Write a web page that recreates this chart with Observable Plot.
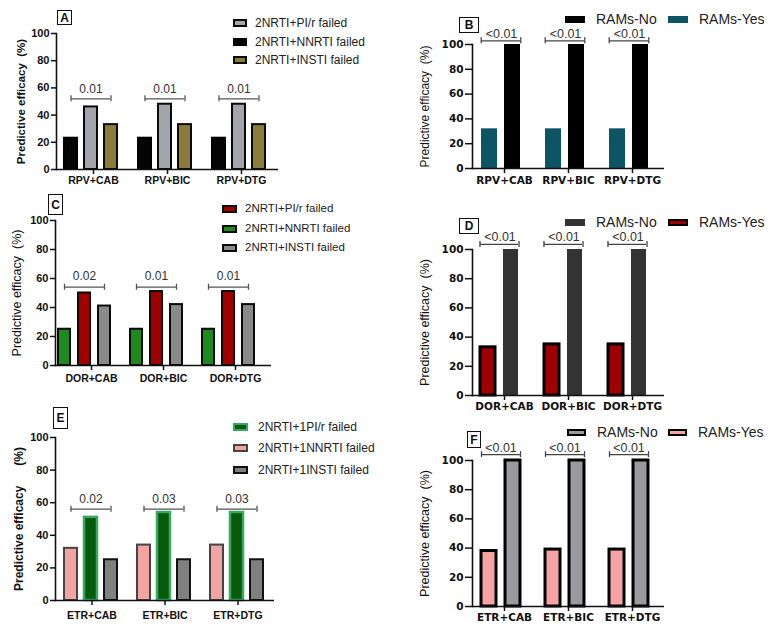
<!DOCTYPE html>
<html><head><meta charset="utf-8">
<script src="https://cdn.jsdelivr.net/npm/d3@7"></script>
<script src="https://cdn.jsdelivr.net/npm/@observablehq/plot@0.6"></script>
<style>
body{margin:0;background:#fff;}
#wrap{position:relative;width:769px;height:630px;overflow:hidden;background:#fff;font-family:"Liberation Sans",Arial,sans-serif;}
.panel{position:absolute;}
.tag{position:absolute;border:1.4px solid #111;font-weight:bold;display:flex;align-items:center;justify-content:center;box-sizing:border-box;font-size:12px;color:#111;background:#fff;}
.leg{position:absolute;display:flex;align-items:center;white-space:nowrap;color:#222;line-height:1;}
.sw{display:inline-block;box-sizing:border-box;}
</style></head>
<body><div id="wrap"></div>
<script>
// ---------- DATA ----------
const groupsA = ["RPV+CAB", "RPV+BIC", "RPV+DTG"];
const groupsC = ["DOR+CAB", "DOR+BIC", "DOR+DTG"];
const groupsE = ["ETR+CAB", "ETR+BIC", "ETR+DTG"];
const yTicks = [0, 20, 40, 60, 80, 100];

// Panel A
const seriesA = ["2NRTI+NNRTI failed", "2NRTI+PI/r failed", "2NRTI+INSTI failed"];
const legendA = ["2NRTI+PI/r failed", "2NRTI+NNRTI failed", "2NRTI+INSTI failed"];
const nnrtiA = [23, 23, 23];
const pirA = [46, 48, 48];
const instiA = [33, 33, 33];
const pA = ["0.01", "0.01", "0.01"];
const bracketA = [52, 52, 52];

// Panel B
const seriesB = ["RAMs-Yes", "RAMs-No"];
const legendB = ["RAMs-No", "RAMs-Yes"];
const yesB = [32, 32, 32];
const noB = [100, 100, 100];
const pB = ["<0.01", "<0.01", "<0.01"];
const bracketB = [103, 103, 103];

// Panel C
const seriesC = ["2NRTI+NNRTI failed", "2NRTI+PI/r failed", "2NRTI+INSTI failed"];
const legendC = ["2NRTI+PI/r failed", "2NRTI+NNRTI failed", "2NRTI+INSTI failed"];
const nnrtiC = [25, 25, 25];
const pirC = [50, 51, 51];
const instiC = [41, 42, 42];
const pC = ["0.02", "0.01", "0.01"];
const bracketC = [54, 54, 54];

// Panel D
const seriesD = ["RAMs-Yes", "RAMs-No"];
const legendD = ["RAMs-No", "RAMs-Yes"];
const yesD = [33, 35, 35];
const noD = [100, 100, 100];
const pD = ["<0.01", "<0.01", "<0.01"];
const bracketD = [103.5, 103.5, 103.5];

// Panel E
const seriesE = ["2NRTI+1NNRTI failed", "2NRTI+1PI/r failed", "2NRTI+1INSTI failed"];
const legendE = ["2NRTI+1PI/r failed", "2NRTI+1NNRTI failed", "2NRTI+1INSTI failed"];
const nnrtiE = [32, 34, 34];
const pirE = [51, 54, 54];
const instiE = [25, 25, 25];
const pE = ["0.02", "0.03", "0.03"];
const bracketE = [56, 56, 56];

// Panel F
const seriesF = ["RAMs-Yes", "RAMs-No"];
const legendF = ["RAMs-No", "RAMs-Yes"];
const yesF = [38, 39, 39];
const noF = [100, 100, 100];
const pF = ["<0.01", "<0.01", "<0.01"];
const bracketF = [104, 104, 104];

// ---------- STYLES / LAYOUT ----------
const panels = [
  {tag: "A", groups: groupsA, series: seriesA, values: [nnrtiA, pirA, instiA], p: pA, by: bracketA, legend: legendA,
   sty: {"2NRTI+NNRTI failed": ["#050505", "#000", 2], "2NRTI+PI/r failed": ["#a4a4ac", "#0a0a0a", 2], "2NRTI+INSTI failed": ["#8c7c3c", "#0a0a0a", 2]},
   lay: {left: 0, top: 0, ml: 55, mt: 33, fh: 136, mb: 30, mr: 10, facet: 74.5, pi: 0.33, po: 0.44, align: 0.38, edge: false,
         tickSize: 5, tickPad: 2, tickFont: "Liberation Sans", tickFs: 11, fxPad: 2, fxFs: 10.5,
         label: "Predictive efficacy  (%)", labelFs: 11.5, labelW: "bold", labelOff: 40, pdy: -10, pFs: 12, bStroke: "#555"},
   tagBox: [57, 10, 15, 15], legPos: {x: 233, ys: [23, 42, 60], w: 14, h: 8, gap: 8, fs: 12, col: true}},
  {tag: "B", groups: groupsA, series: seriesB, values: [yesB, noB], p: pB, by: bracketB, legend: legendB,
   sty: {"RAMs-Yes": ["#0d5565", "none", 0], "RAMs-No": ["#000000", "none", 0]},
   lay: {left: 400, top: 0, ml: 72, mt: 44, fh: 124, mb: 30, mr: 10, facet: 64, pi: 0.31, po: 0.49, align: 0.34, edge: true,
         tickSize: 7, tickPad: 2, tickFont: "DejaVu Sans", tickFs: 10.5, fxPad: 3, fxFs: 10.5,
         label: "Predictive efficacy  (%)", labelFs: 12, labelW: "normal", labelOff: 52, pdy: -7, pFs: 12.5, bStroke: "#444"},
   tagBox: [459, 17, 20, 16], legPos: {y: 19, xs: [565, 668], w: 20, h: 7, gap: 11, fs: 14, col: false}},
  {tag: "C", groups: groupsC, series: seriesC, values: [nnrtiC, pirC, instiC], p: pC, by: bracketC, legend: legendC,
   sty: {"2NRTI+NNRTI failed": ["#1c8a1c", "#0a0a0a", 2], "2NRTI+PI/r failed": ["#a00000", "#0a0a0a", 2], "2NRTI+INSTI failed": ["#8a8a8a", "#0a0a0a", 2]},
   lay: {left: 0, top: 190, ml: 55, mt: 30, fh: 145, mb: 30, mr: 10, facet: 72, pi: 0.4, po: 0.5, align: 0.15, edge: false,
         tickSize: 5, tickPad: 2, tickFont: "Liberation Sans", tickFs: 11, fxPad: 4, fxFs: 10.5,
         label: "Predictive efficacy  (%)", labelFs: 12.5, labelW: "normal", labelOff: 43, pdy: -11, pFs: 12, bStroke: "#555"},
   tagBox: [48, 194, 15, 21], legPos: {x: 222, ys: [209, 229, 248], w: 15, h: 8, gap: 8, fs: 11.5, col: true}},
  {tag: "D", groups: groupsC, series: seriesD, values: [yesD, noD], p: pD, by: bracketD, legend: legendD,
   sty: {"RAMs-Yes": ["#9e0000", "#000", 3], "RAMs-No": ["#333333", "none", 0]},
   lay: {left: 400, top: 200, ml: 72, mt: 49, fh: 146, mb: 30, mr: 10, facet: 64, pi: 0.33, po: 0.5, align: 0.33, edge: true,
         tickSize: 7, tickPad: 2, tickFont: "DejaVu Sans", tickFs: 10.5, fxPad: 2, fxFs: 10.5,
         label: "Predictive efficacy  (%)", labelFs: 12.5, labelW: "normal", labelOff: 52, pdy: -7, pFs: 12.5, bStroke: "#444"},
   tagBox: [459, 218, 20, 16], legPos: {y: 222, xs: [565, 668], w: 20, h: 7, gap: 11, fs: 14, col: false}},
  {tag: "E", groups: groupsE, series: seriesE, values: [nnrtiE, pirE, instiE], p: pE, by: bracketE, legend: legendE,
   sty: {"2NRTI+1NNRTI failed": ["#f4a3a3", "#444", 2], "2NRTI+1PI/r failed": ["#075a0a", "#3aa862", 2.5], "2NRTI+1INSTI failed": ["#808080", "#111", 2]},
   lay: {left: 0, top: 400, ml: 54, mt: 37, fh: 163, mb: 30, mr: 10, facet: 73.5, pi: 0.34, po: 0.46, align: 0.47, edge: false,
         tickSize: 5, tickPad: 2, tickFont: "Liberation Sans", tickFs: 11, fxPad: 6, fxFs: 10.5,
         label: "Predictive efficacy      (%)", labelFs: 12, labelW: "bold", labelOff: 41, pdy: -10, pFs: 12, bStroke: "#555"},
   tagBox: [53, 407, 15, 22], legPos: {x: 233, ys: [427, 448, 470], w: 15, h: 8, gap: 10, fs: 12, col: true}},
  {tag: "F", groups: groupsE, series: seriesF, values: [yesF, noF], p: pF, by: bracketF, legend: legendF,
   sty: {"RAMs-Yes": ["#f8a3a3", "#000", 3], "RAMs-No": ["#9a9a9e", "#000", 3]},
   lay: {left: 400, top: 420, ml: 72, mt: 40, fh: 146, mb: 30, mr: 10, facet: 64, pi: 0.375, po: 0.52, align: 0.36, edge: true,
         tickSize: 7, tickPad: 2, tickFont: "DejaVu Sans", tickFs: 10.5, fxPad: 2, fxFs: 10.5,
         label: "Predictive efficacy  (%)", labelFs: 12.5, labelW: "normal", labelOff: 52, pdy: -7, pFs: 12.5, bStroke: "#444"},
   tagBox: [467, 431, 14, 17], legPos: {y: 432, xs: [567, 668], w: 19, h: 7, gap: 11, fs: 14, col: false}}
];

const wrap = document.getElementById("wrap");

function makePanel(c) {
  const L = c.lay;
  const rows = [];
  c.groups.forEach((g, i) => c.series.forEach((s, j) => rows.push({group: g, series: s, value: c.values[j][i]})));
  const n = c.series.length;
  const first = c.series[0], last = c.series[n - 1];
  const br = c.groups.map((g, i) => ({group: g, p: c.p[i], y: c.by[i], a: first, b: last, m: c.series[Math.floor(n / 2)]}));
  const step = L.facet / (n - L.pi + 2 * L.po);
  const bw = step * (1 - L.pi);
  const inset = L.edge ? 0 : bw / 2;
  const tickDx = bw / 2 - inset;
  const width = L.ml + 3 * L.facet + L.mr;
  const height = L.mt + L.fh + L.mb;
  const marks = [];
  c.series.forEach(s => {
    const [fill, stroke, sw] = c.sty[s];
    marks.push(Plot.barY(rows.filter(d => d.series === s), {fx: "group", x: "series", y: "value", fill, stroke, strokeWidth: sw}));
  });
  const textX = n % 2 === 1 ? {x: "m"} : {x: "a", dx: step / 2};
  marks.push(
    Plot.ruleY([0], {stroke: "#111", strokeWidth: 1.6}),
    Plot.frame({anchor: "left", facetAnchor: "left", stroke: "#111", strokeWidth: 1.6}),
    Plot.axisY({ticks: yTicks, tickFormat: d => String(d), tickSize: L.tickSize, tickPadding: L.tickPad, strokeWidth: 1.5,
      fontSize: L.tickFs, fontWeight: "bold", fontFamily: L.tickFont, fill: "#111", label: null}),
    Plot.axisY({ticks: [], tickSize: 0, label: L.label, labelAnchor: "center", labelOffset: L.labelOff, labelArrow: "none",
      fontSize: L.labelFs, fontWeight: L.labelW, fill: "#111"}),
    Plot.axisFx({anchor: "bottom", tickSize: 5, tickPadding: L.fxPad, strokeWidth: 1.5, fontSize: L.fxFs, fontWeight: "bold",
      fontFamily: L.tickFont, fill: "#111", label: null}),
    Plot.ruleY(br, {fx: "group", x1: "a", x2: "b", y: "y", insetLeft: inset, insetRight: inset, stroke: L.bStroke, strokeWidth: 1.3}),
    Plot.ruleX(br, {fx: "group", x: "a", y1: "y", y2: "y", insetTop: -3, insetBottom: -3, dx: -tickDx, stroke: L.bStroke, strokeWidth: 1.3}),
    Plot.ruleX(br, {fx: "group", x: "b", y1: "y", y2: "y", insetTop: -3, insetBottom: -3, dx: tickDx, stroke: L.bStroke, strokeWidth: 1.3}),
    Plot.text(br, {fx: "group", ...textX, y: "y", text: "p", dy: L.pdy, fontSize: L.pFs, fill: "#333"})
  );
  const svg = Plot.plot({
    width, height, marginLeft: L.ml, marginRight: L.mr, marginTop: L.mt, marginBottom: L.mb,
    style: {fontFamily: "Liberation Sans", background: "transparent", overflow: "visible", color: "#111"},
    fx: {domain: c.groups, padding: 0, label: null},
    x: {domain: c.series, paddingInner: L.pi, paddingOuter: L.po, align: L.align, axis: null},
    y: {domain: [0, 100]},
    marks
  });
  svg.classList.add("panel");
  svg.style.left = L.left + "px";
  svg.style.top = L.top + "px";
  svg.style.maxWidth = "none";
  wrap.appendChild(svg);

  // panel tag
  const t = document.createElement("div");
  t.className = "tag";
  const [tx, ty, tw, th] = c.tagBox;
  Object.assign(t.style, {left: tx + "px", top: ty + "px", width: tw + "px", height: th + "px"});
  t.textContent = c.tag;
  wrap.appendChild(t);

  // legend
  const P = c.legPos;
  c.legend.forEach((name, k) => {
    const [fill, stroke, sw] = c.sty[name];
    const item = document.createElement("div");
    item.className = "leg";
    const x = P.col ? P.x : P.xs[k];
    const y = P.col ? P.ys[k] : P.y;
    Object.assign(item.style, {left: x + "px", top: (y - 7) + "px", height: "14px", fontSize: P.fs + "px"});
    const s = document.createElement("span");
    s.className = "sw";
    const bwid = stroke === "none" ? 0 : Math.min(sw, 2);
    Object.assign(s.style, {width: P.w + "px", height: P.h + "px", background: fill,
      border: bwid ? `${bwid}px solid ${stroke}` : "none", marginRight: P.gap + "px"});
    item.appendChild(s);
    item.appendChild(document.createTextNode(name));
    wrap.appendChild(item);
  });
}

panels.forEach(makePanel);
</script>
</body></html>
